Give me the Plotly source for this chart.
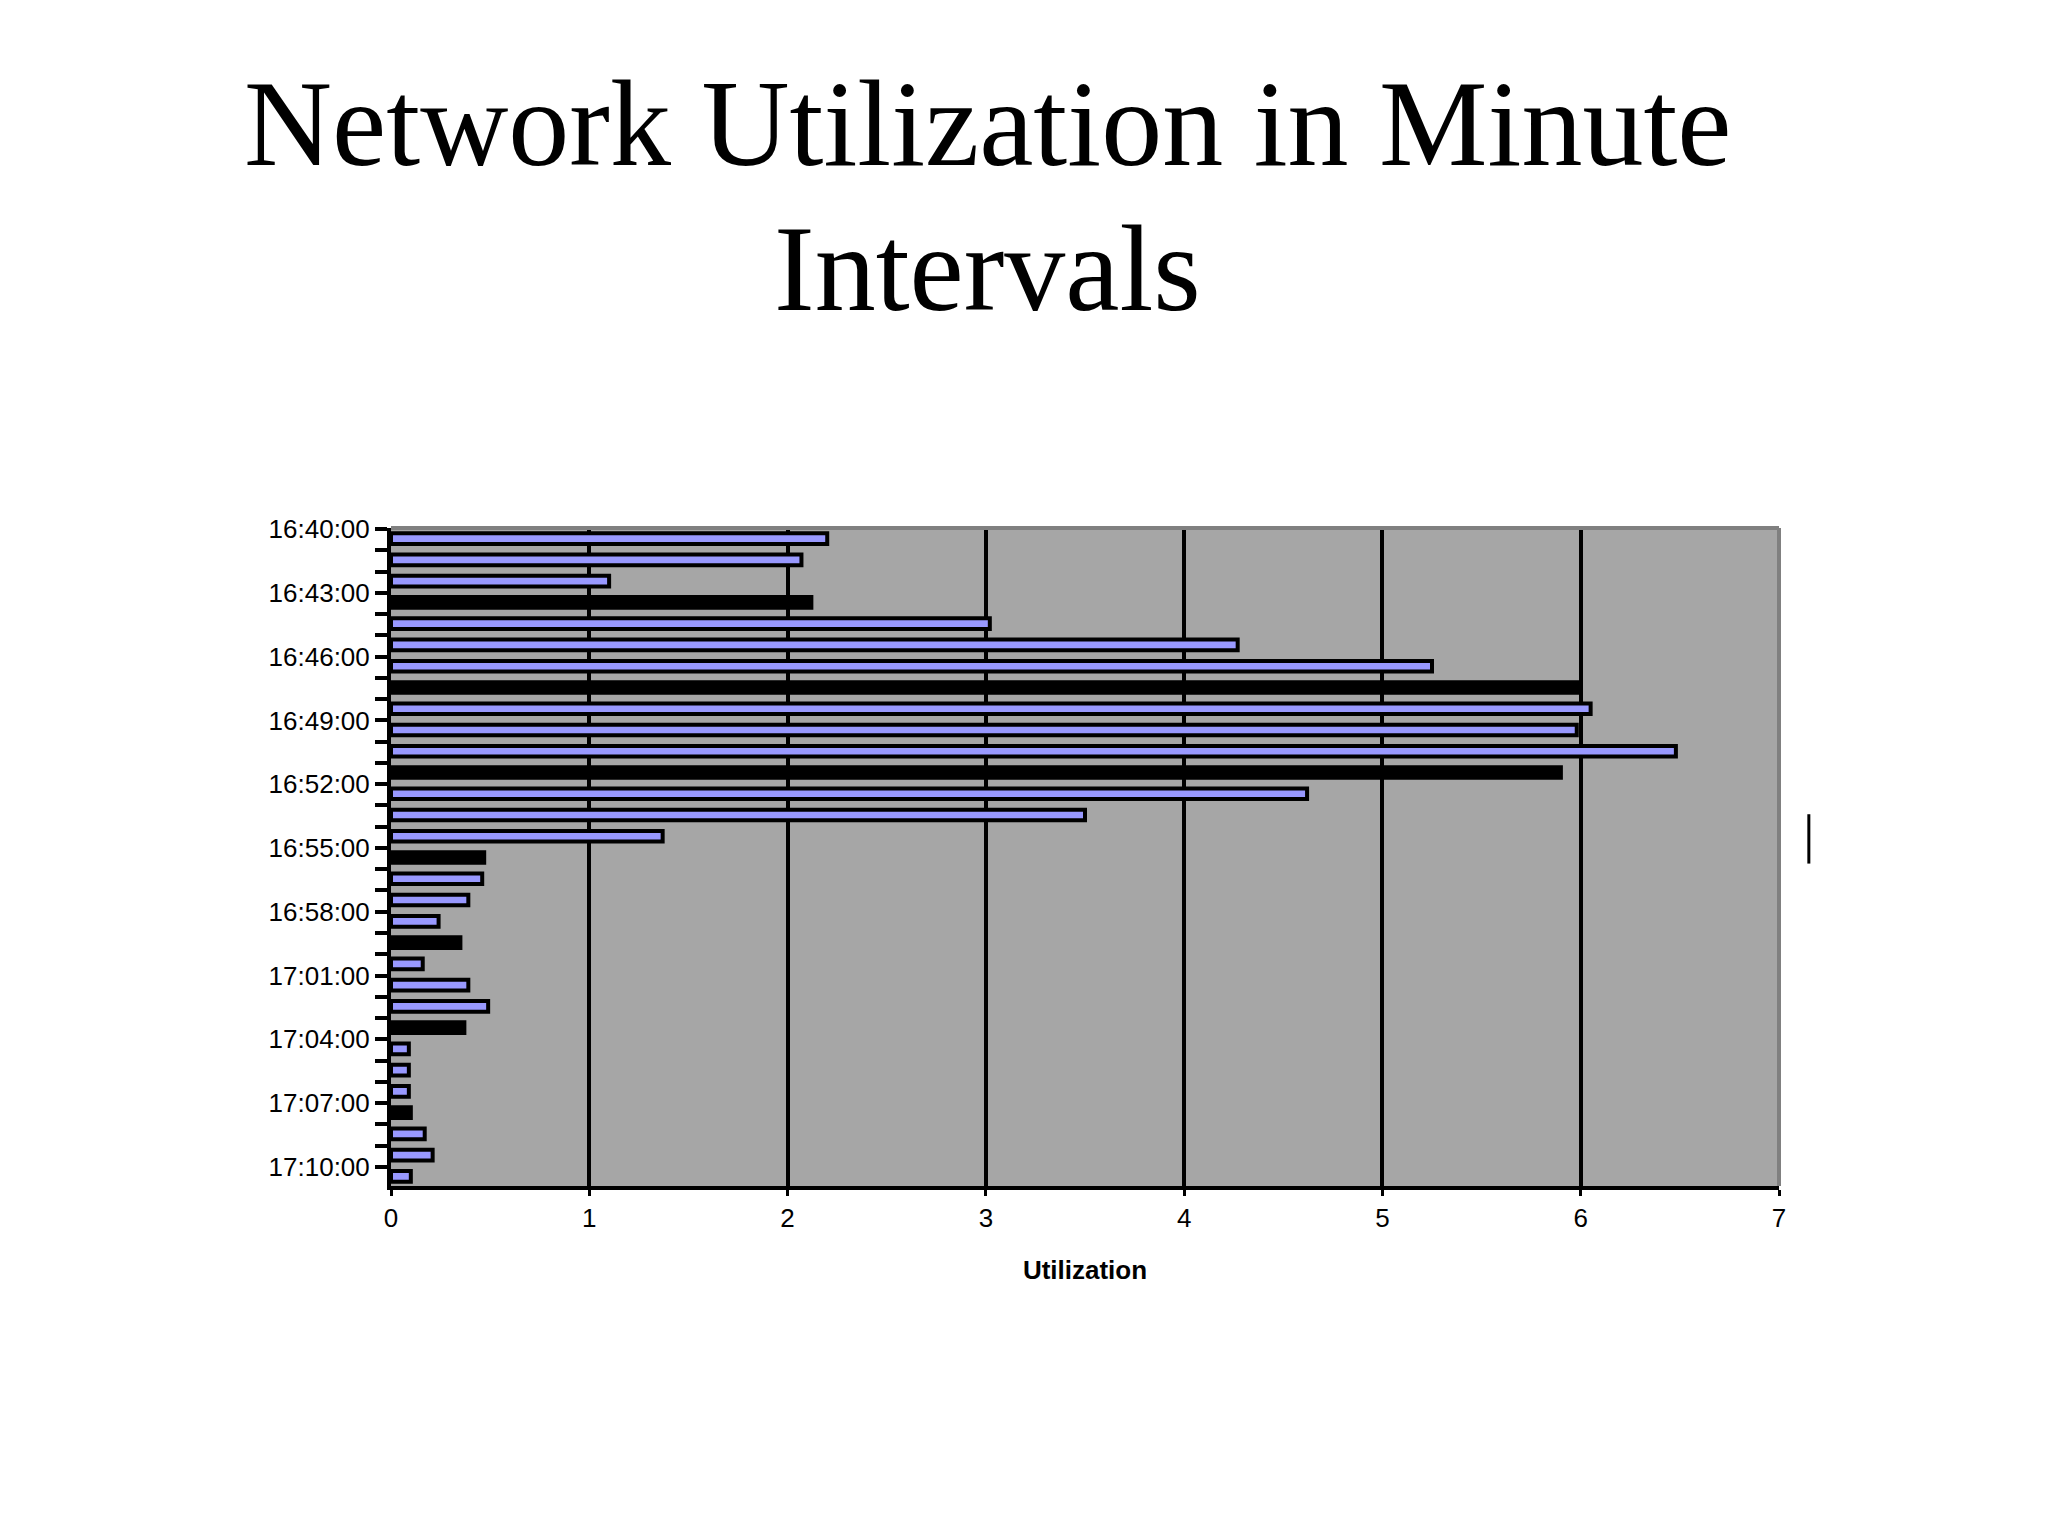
import plotly.graph_objects as go

# one bar per minute, 16:40 .. 17:10
minutes = [f"{16 + (40 + i) // 60}:{(40 + i) % 60:02d}:00" for i in range(31)]
utilization = [2.2, 2.07, 1.1, 2.12, 3.02, 4.27, 5.25, 6.0, 6.05, 5.98, 6.48,
               5.9, 4.62, 3.5, 1.37, 0.47, 0.46, 0.39, 0.24, 0.35, 0.16, 0.39,
               0.49, 0.37, 0.09, 0.09, 0.09, 0.1, 0.17, 0.21, 0.1]
# bars that render as solid black in the original
dark_bars = {3, 7, 11, 15, 19, 23, 27}
label_every = 3
title_lines = ["Network Utilization in Minute", "Intervals"]

colors = ["black" if i in dark_bars else "#9999ff" for i in range(len(minutes))]
tickvals = [i - 0.45 for i in range(0, len(minutes), label_every)]
ticktext = [minutes[i] for i in range(0, len(minutes), label_every)]

fig = go.Figure()
fig.add_trace(go.Bar(
    x=utilization,
    y=list(range(len(minutes))),
    orientation="h",
    width=0.5,
    marker=dict(color=colors, line=dict(color="black", width=4)),
))

fig.update_layout(
    width=2048,
    height=1536,
    paper_bgcolor="white",
    plot_bgcolor="#a6a6a6",
    showlegend=False,
    margin=dict(l=383, r=277, t=520, b=358),
    font=dict(family="Liberation Sans", color="black"),
)

# title, one annotation per line
for text, ypos in zip(title_lines, [1.615, 1.394]):
    fig.add_annotation(text=text, xref="paper", yref="paper", x=0.43, y=ypos,
                       xanchor="center", yanchor="middle", showarrow=False,
                       font=dict(family="Liberation Serif", size=122, color="black"))

fig.update_xaxes(
    range=[0, 7], dtick=1, showgrid=True, gridcolor="black", gridwidth=4,
    showline=True, linecolor="black", linewidth=4, mirror=False,
    ticks="outside", ticklen=6, tickwidth=3, tickcolor="black",
    tickfont=dict(size=26), zeroline=False,
    title=dict(text="<b>Utilization</b>", font=dict(size=26), standoff=30),
)
fig.update_yaxes(
    range=[30.45, -0.5], tickvals=tickvals, ticktext=ticktext,
    showgrid=False, zeroline=False,
    showline=True, linecolor="black", linewidth=4,
    ticks="outside", ticklen=12, tickwidth=4, tickcolor="black",
    minor=dict(tick0=-0.45, dtick=1, ticks="outside", ticklen=12,
               tickwidth=4, tickcolor="black", showgrid=False),
    tickfont=dict(size=26),
)

# grey border of the plot area (top and right)
fig.add_shape(type="line", xref="paper", yref="paper", x0=0, x1=1, y0=1, y1=1,
              line=dict(color="#808080", width=4))
fig.add_shape(type="line", xref="paper", yref="paper", x0=1, x1=1, y0=0, y1=1,
              line=dict(color="#808080", width=4))
# stray cursor mark at the right
fig.add_shape(type="line", xref="paper", yref="paper", x0=1.0215, x1=1.0215,
              y0=0.49, y1=0.565, line=dict(color="black", width=3))

fig.write_html("out.html")
